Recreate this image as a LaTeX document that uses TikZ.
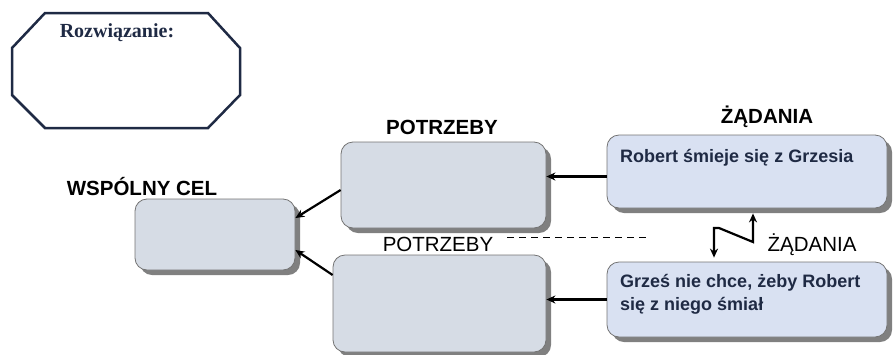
\documentclass[tikz,border=0pt]{standalone}
\usepackage{fontspec}
\setmainfont{Liberation Sans}
\newfontfamily\serifbold{Liberation Serif}
\usetikzlibrary{shadows,arrows.meta}
\definecolor{boxgray}{HTML}{D6DCE5}
\definecolor{boxblue}{HTML}{D9E1F2}
\definecolor{inkblue}{HTML}{1F2A44}
\begin{document}
\begin{tikzpicture}[x=1pt,y=-1pt,
  card/.style={rounded corners=12pt,draw=black!55,line width=0.8pt,fill=boxgray,
    drop shadow={shadow xshift=5pt,shadow yshift=-5pt,fill=black!50,opacity=1}},
  head/.style={font=\fontsize{20.5}{24}\selectfont\bfseries},
  plain/.style={font=\fontsize{20.5}{24}\selectfont},
  say/.style={font=\fontsize{18}{23}\selectfont\bfseries,text=inkblue,align=left,anchor=base west,inner sep=0pt},
  link/.style={line width=2.2pt,-{Stealth[length=9pt,width=8pt]}}]
\useasboundingbox (0,0) rectangle (896,354);

% solution frame
\draw[inkblue,line width=2.5pt] (45,13) -- (208,13) -- (240,48) -- (240,95)
  -- (208,128) -- (45,128) -- (12,95) -- (12,48) -- cycle;
\node[font=\serifbold\fontsize{20}{24}\selectfont\bfseries,text=inkblue](sol) at (117,33) {Rozwiązanie:};

% boxes
\node[plain](plab2) at (438,244) {POTRZEBY};
\node[card,minimum width=205pt,minimum height=86pt](pot1) at (443.5,185) {};
\node[card,minimum width=213pt,minimum height=97pt](pot2) at (439.5,303.5) {};
\node[card,minimum width=160pt,minimum height=71pt](cel) at (215,234.5) {};
\node[card,fill=boxblue,minimum width=280pt,minimum height=73pt](zad1) at (747,171.5) {};
\node[card,fill=boxblue,minimum width=280pt,minimum height=75pt](zad2) at (747,299.5) {};

% headings
\node[head](plab1) at (442,127) {POTRZEBY};
\node[head](zlab1) at (767,117) {ŻĄDANIA};
\node[head](clab) at (142,187) {WSPÓLNY CEL};
\node[plain](zlab2) at (812,245) {ŻĄDANIA};

\node[say](txt1) at (620,162) {Robert śmieje się z Grzesia};
\node[say](txt2) at (620,310) {Grześ nie chce, żeby Robert\\się z niego śmiał};

% arrows
\draw[link] ([yshift=-5pt]zad1.west) -- ([yshift=-5pt]zad1.west -| pot1.east);
\draw[link] (zad2.west) -- (zad2.west -| pot2.east);
\draw[link] ([yshift=-5pt]pot1.west) -- ([yshift=16.5pt]cel.east);
\draw[link] ([yshift=28.5pt]pot2.west) -- ([yshift=-15.5pt]cel.east);

\coordinate (k1) at (714,228);
\coordinate (k2) at (753,242);
\draw[line width=2.2pt,{Stealth[length=9pt,width=8pt]}-{Stealth[length=9pt,width=8pt]},shorten <=4pt,shorten >=5pt]
  (zad2.north -| k1) -- (k1) -- ++(5,0) -- (k2) -- (zad1.south -| k2);

\coordinate (d1) at (507,237);
\coordinate (d2) at (650,237);
\draw[line width=1pt,dash pattern=on 7pt off 5pt] (d1) -- (d2);
\end{tikzpicture}
\end{document}
